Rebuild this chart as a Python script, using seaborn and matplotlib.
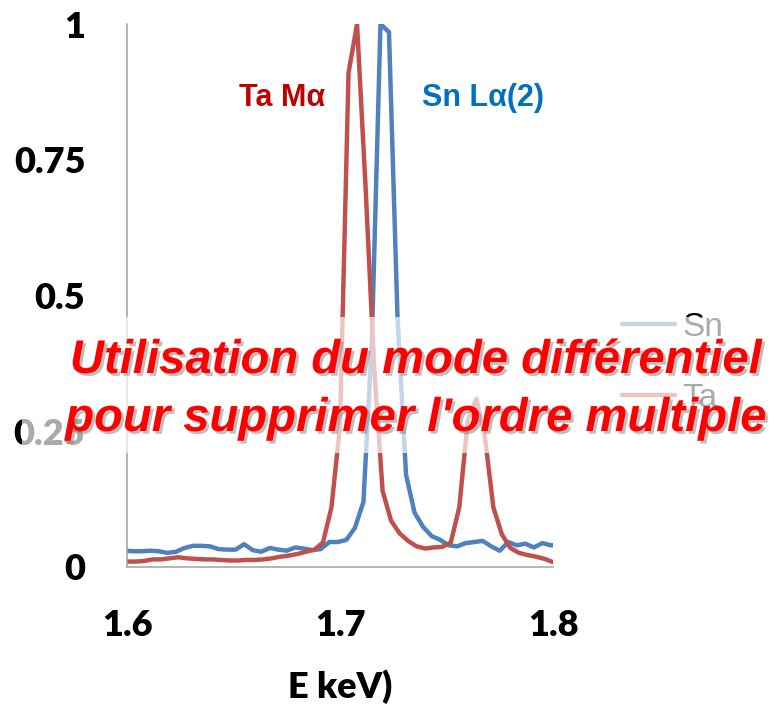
import matplotlib
matplotlib.use("Agg")
import matplotlib.pyplot as plt
import matplotlib.patheffects as pe
from matplotlib.patches import Rectangle
import pandas as pd
import seaborn as sns

# ---------------- data ----------------
energy_ta = [1.600, 1.604, 1.608, 1.612, 1.616, 1.620, 1.624, 1.628, 1.632, 1.636,
             1.640, 1.644, 1.648, 1.652, 1.656, 1.660, 1.664, 1.668, 1.672, 1.676,
             1.680, 1.684, 1.688, 1.692, 1.696, 1.700, 1.704, 1.708, 1.712, 1.716,
             1.720, 1.724, 1.728, 1.732, 1.736, 1.740, 1.744, 1.748, 1.752, 1.756,
             1.760, 1.764, 1.768, 1.772, 1.776, 1.780, 1.784, 1.788, 1.792, 1.796,
             1.800]
intensity_ta = [0.010, 0.010, 0.011, 0.014, 0.014, 0.016, 0.018, 0.016, 0.015, 0.014,
                0.014, 0.013, 0.012, 0.012, 0.013, 0.013, 0.014, 0.016, 0.019, 0.021,
                0.024, 0.028, 0.032, 0.045, 0.110, 0.260, 0.910, 1.000, 0.700, 0.370,
                0.140, 0.085, 0.062, 0.048, 0.038, 0.034, 0.036, 0.037, 0.045, 0.110,
                0.270, 0.310, 0.240, 0.110, 0.060, 0.035, 0.026, 0.022, 0.019, 0.015,
                0.009]

energy_sn = [1.599, 1.603, 1.607, 1.611, 1.615, 1.619, 1.623, 1.627, 1.631, 1.635,
             1.639, 1.643, 1.647, 1.651, 1.655, 1.659, 1.663, 1.667, 1.671, 1.675,
             1.679, 1.683, 1.687, 1.691, 1.695, 1.699, 1.703, 1.707, 1.711, 1.715,
             1.719, 1.723, 1.727, 1.731, 1.735, 1.739, 1.743, 1.747, 1.751, 1.755,
             1.759, 1.763, 1.767, 1.771, 1.775, 1.779, 1.783, 1.787, 1.791, 1.795,
             1.799, 1.803]
intensity_sn = [0.030, 0.029, 0.029, 0.030, 0.029, 0.026, 0.028, 0.035, 0.039, 0.039,
                0.038, 0.033, 0.032, 0.032, 0.042, 0.031, 0.028, 0.035, 0.032, 0.030,
                0.036, 0.034, 0.031, 0.033, 0.046, 0.046, 0.050, 0.072, 0.120, 0.420,
                1.000, 0.985, 0.460, 0.170, 0.100, 0.074, 0.057, 0.050, 0.040, 0.038,
                0.044, 0.046, 0.048, 0.038, 0.030, 0.046, 0.040, 0.043, 0.036, 0.044,
                0.040, 0.040]

series_names = ["Sn", "Ta"]
x_ticks = [1.6, 1.7, 1.8]
x_tick_labels = ["1.6", "1.7", "1.8"]
y_ticks = [0, 0.25, 0.5, 0.75, 1]
y_tick_labels = ["0", "0.25", "0.5", "0.75", "1"]
x_label = "E keV)"
peak_labels = ["Ta Mα", "Sn Lα(2)"]
overlay_lines = ["Utilisation du mode différentiel", "pour supprimer l'ordre multiple"]

df = pd.concat([
    pd.DataFrame({"E": energy_sn, "I": intensity_sn, "elem": series_names[0]}),
    pd.DataFrame({"E": energy_ta, "I": intensity_ta, "elem": series_names[1]}),
], ignore_index=True)

# ---------------- style ----------------
sns.set_style("white")
plt.rcParams["font.family"] = ["Lato", "DejaVu Sans"]
plt.rcParams["text.color"] = "black"
plt.rcParams["xtick.color"] = "black"
plt.rcParams["ytick.color"] = "black"
plt.rcParams["axes.labelcolor"] = "black"

W, H = 777, 704
fig = plt.figure(figsize=(W / 100, H / 100), dpi=100)
ax = fig.add_axes([127 / W, 1 - 567 / H, (553 - 127) / W, (567 - 24) / H])

palette = {"Sn": "#4F81BD", "Ta": "#C0504D"}
sns.lineplot(data=df, x="E", y="I", hue="elem", palette=palette, estimator=None,
             sort=False, linewidth=3.2, ax=ax, legend=True)

ax.set_xlim(1.6, 1.8)
ax.set_ylim(0, 1)
ax.set_xticks(x_ticks)
ax.set_xticklabels(x_tick_labels)
ax.set_yticks(y_ticks)
ax.set_yticklabels(y_tick_labels)
ax.tick_params(axis="x", length=0, pad=30, labelsize=26, labelcolor="black")
ax.tick_params(axis="y", length=0, pad=30, labelsize=26, labelcolor="black")
for lab in ax.get_xticklabels() + ax.get_yticklabels():
    lab.set_fontweight("heavy")
ax.set_xlabel(x_label, fontsize=26, fontweight="heavy", labelpad=20, color="black")
ax.set_ylabel("")

for s in ["top", "right"]:
    ax.spines[s].set_visible(False)
for s in ["left", "bottom"]:
    ax.spines[s].set_color("#A0A0A0")
    ax.spines[s].set_linewidth(1.1)

handles, labels = ax.get_legend_handles_labels()
leg = ax.legend(handles, labels, loc="center left",
                bbox_to_anchor=(622 / W, 1 - 363 / H), bbox_transform=fig.transFigure,
                frameon=False, handlelength=1.6, handletextpad=0.2,
                labelspacing=1.2, borderpad=0, borderaxespad=0,
                prop={"family": ["Liberation Sans"], "size": 24})
for t in leg.get_texts():
    t.set_color("black")

# peak labels
fig.text(282 / W, 1 - 98 / H, peak_labels[0], ha="center", va="center",
         color="#C00000", fontsize=22, fontweight="bold", family=["Liberation Sans"])
fig.text(483 / W, 1 - 98 / H, peak_labels[1], ha="center", va="center",
         color="#0070C0", fontsize=22, fontweight="bold", family=["Liberation Sans"])

# translucent band behind overlay text
band = Rectangle((22 / W, 1 - 453 / H), (W - 22) / W, (453 - 317) / H,
                 transform=fig.transFigure, facecolor="white", edgecolor="none",
                 alpha=0.67, zorder=5)
fig.patches.append(band)

shadow = [pe.withSimplePatchShadow(offset=(2, -2), shadow_rgbFace="#808080", alpha=0.5)]
fig.text(416 / W, 1 - 373 / H, overlay_lines[0], ha="center", va="baseline",
         color="#FF0000", fontsize=34, fontweight="bold", fontstyle="italic",
         family=["Liberation Sans"], zorder=10, path_effects=shadow)
fig.text(416 / W, 1 - 431 / H, overlay_lines[1], ha="center", va="baseline",
         color="#FF0000", fontsize=34, fontweight="bold", fontstyle="italic",
         family=["Liberation Sans"], zorder=10, path_effects=shadow)

fig.savefig("out.png", dpi=100)
